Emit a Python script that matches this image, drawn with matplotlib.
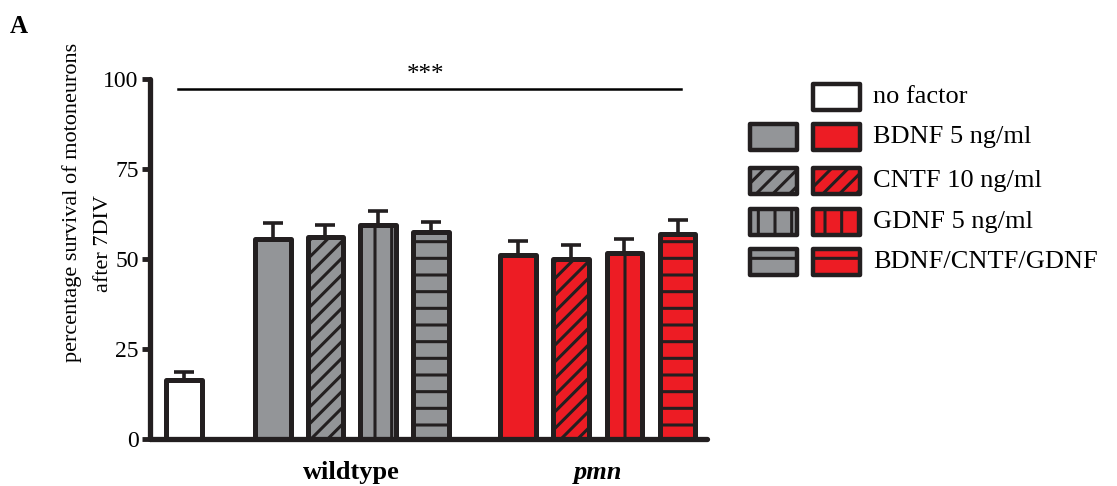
import matplotlib
matplotlib.use("Agg")
import matplotlib.pyplot as plt
from matplotlib.patches import Rectangle
import numpy as np

# ---- data ----
factors = ["no factor", "BDNF 5 ng/ml", "CNTF 10 ng/ml", "GDNF 5 ng/ml", "BDNF/CNTF/GDNF"]
nofactor_mean = [16.3]
nofactor_err = [2.4]
wildtype_mean = [55.7, 56.2, 59.6, 57.4]
wildtype_err = [4.2, 3.3, 3.7, 2.8]
pmn_mean = [51.1, 49.9, 51.6, 56.9]
pmn_err = [3.8, 4.0, 4.1, 3.9]
groups = ["wildtype", "pmn"]
yticks = [0, 25, 50, 75, 100]
ylabel_lines = ["percentage survival of motoneurons", "after 7DIV"]
sig_label = "***"

# ---- style ----
EDGE = "#231F20"
GRAY = "#939598"
RED = "#ED1C24"
hatches = ["", "//", "|", "-"]
plt.rcParams["font.family"] = ["Liberation Serif", "DejaVu Serif"]
plt.rcParams["hatch.linewidth"] = 2.2
plt.rcParams["hatch.color"] = EDGE

fig = plt.figure(figsize=(11.17, 4.86), dpi=100)
ax = fig.add_axes([0.134, 0.0967, 0.499, 0.7403])

pos_nf = [0.0]
pos_wt = [1.69 + i for i in range(4)]
pos_pmn = [6.35 + i * 1.01 for i in range(4)]
bw = 0.68

def draw(pos, means, errs, color, hs):
    ax.errorbar(pos, means, yerr=[np.zeros(len(means)), errs], fmt="none",
                ecolor=EDGE, elinewidth=2.6, capsize=7.5, capthick=2.6, zorder=1)
    for p, m, h in zip(pos, means, hs):
        ax.bar(p, m, width=bw, color=color, edgecolor=EDGE, linewidth=3.6,
               hatch=h, zorder=2, joinstyle="round")

draw(pos_nf, nofactor_mean, nofactor_err, "white", [""])
draw(pos_wt, wildtype_mean, wildtype_err, GRAY, hatches)
draw(pos_pmn, pmn_mean, pmn_err, RED, hatches)

ax.set_xlim(-0.65, 9.94)
ax.set_ylim(0, 100)
ax.set_yticks(yticks)
ax.set_yticklabels([str(t) for t in yticks], fontsize=17)
ax.set_xticks([])
for s in ["top", "right"]:
    ax.spines[s].set_visible(False)
for s in ["left", "bottom"]:
    ax.spines[s].set_linewidth(3.8)
    ax.spines[s].set_color(EDGE)
    ax.spines[s].set_capstyle("round")
ax.tick_params(axis="y", direction="out", length=6, width=3.5, color=EDGE, pad=2)

# y label (two lines, placed as in the reference)
fig.text(72 / 1117, 1 - 202 / 486, ylabel_lines[0], rotation=90, fontsize=16,
         ha="center", va="center")
fig.text(104 / 1117, 1 - 243 / 486, ylabel_lines[1], rotation=90, fontsize=16,
         ha="center", va="center")

# significance line
ax.plot([-0.12, 9.45], [97.2, 97.2], color="black", lw=1.8, clip_on=False)
ax.text(4.6, 98.0, sig_label, ha="center", va="bottom", fontsize=18)

# group labels
ax.text(np.mean(pos_wt), -6.0, groups[0], ha="center", va="top",
        fontsize=19, fontweight="bold")
ax.text(np.mean(pos_pmn), -6.0, groups[1], ha="center", va="top",
        fontsize=19, fontweight="bold", style="italic")

# panel label
fig.text(0.009, 0.945, "A", fontsize=18, fontweight="bold", ha="left", va="center")

# ---- legend ----
col_x = [0.6715, 0.728]
pw, ph = 0.042, 0.054
row_y = [0.800, 0.718, 0.628, 0.543, 0.461]
text_x = 0.782
for i, (lab, yc) in enumerate(zip(factors, row_y)):
    if i == 0:
        fig.add_artist(Rectangle((col_x[1], yc - ph / 2), pw, ph, transform=fig.transFigure,
                                 facecolor="white", edgecolor=EDGE, linewidth=3.2,
                                 joinstyle="round"))
    else:
        h = hatches[i - 1]
        for cx, col in zip(col_x, [GRAY, RED]):
            fig.add_artist(Rectangle((cx, yc - ph / 2), pw, ph, transform=fig.transFigure,
                                     facecolor=col, edgecolor=EDGE, linewidth=3.2,
                                     hatch=h, joinstyle="round"))
    fig.text(text_x, yc, lab, fontsize=19, ha="left", va="center")

fig.savefig("out.png", dpi=100)
